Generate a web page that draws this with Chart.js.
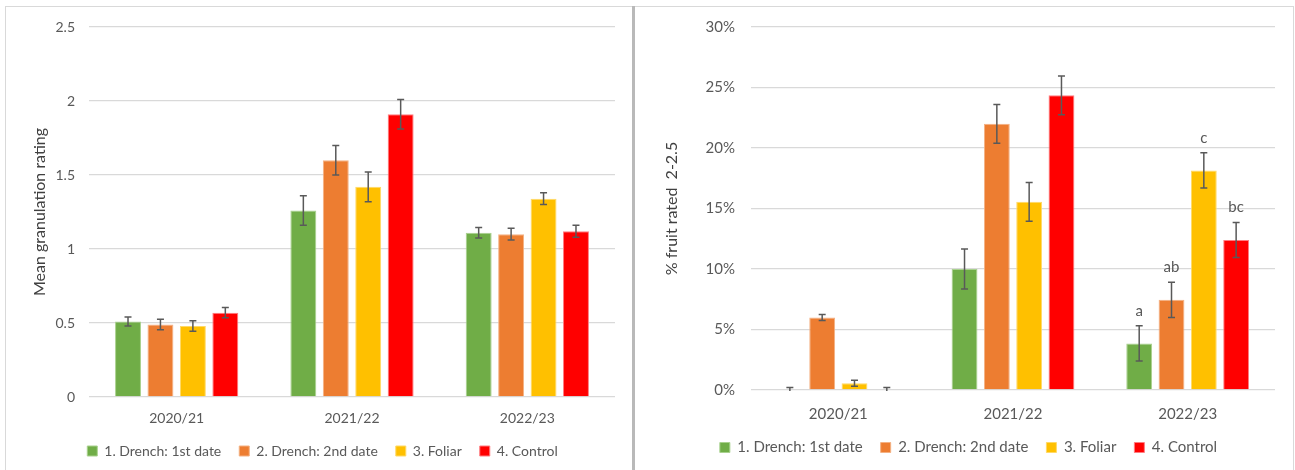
<!DOCTYPE html>
<html>
<head>
<meta charset="utf-8">
<script src="https://cdn.jsdelivr.net/npm/chart.js@4.4.1/dist/chart.umd.min.js"></script>
<style>
  body { margin: 0; background: #fff; width: 1295px; height: 470px; overflow: hidden; position: relative; }
  .panel { position: absolute; top: 6px; height: 470px; box-sizing: border-box; border-top: 1px solid #d9d9d9; }
  #leftPanel { left: 5px; width: 628px; border-left: 1px solid #d9d9d9; }
  #rightPanel { left: 635px; width: 659px; border-right: 1px solid #d9d9d9; }
  #divider { position: absolute; left: 632px; top: 6px; width: 3px; height: 464px; background: #b9b9b9; }
  canvas { position: absolute; top: 0; left: 0; }
</style>
</head>
<body>
<div class="panel" id="leftPanel"><canvas id="ratingChart" width="627" height="463"></canvas></div>
<div id="divider"></div>
<div class="panel" id="rightPanel"><canvas id="pctChart" width="658" height="463"></canvas></div>
<script>
const seasons = ['2020/21', '2021/22', '2022/23'];
const treatments = ['1. Drench: 1st date', '2. Drench: 2nd date', '3. Foliar', '4. Control'];
const colors = ['#70AD47', '#ED7D31', '#FFC000', '#FF0000'];
const edgeColors = ['#A9D18E', '#F4B183', '#FFD966', '#FF7C80'];

// mean granulation rating per treatment, with standard errors
const ratingDrench1 = [0.51, 1.26, 1.11];
const ratingDrench2 = [0.49, 1.60, 1.10];
const ratingFoliar = [0.48, 1.42, 1.34];
const ratingControl = [0.57, 1.91, 1.12];
const ratingErrDrench1 = [0.03, 0.10, 0.035];
const ratingErrDrench2 = [0.035, 0.10, 0.04];
const ratingErrFoliar = [0.035, 0.10, 0.04];
const ratingErrControl = [0.035, 0.10, 0.04];
const ratingTicks = [0, 0.5, 1, 1.5, 2, 2.5];

// % fruit rated 2-2.5 per treatment, with standard errors
const pctDrench1 = [0, 10.0, 3.85];
const pctDrench2 = [6.0, 22.0, 7.45];
const pctFoliar = [0.55, 15.55, 18.15];
const pctControl = [0, 24.35, 12.4];
const pctErrDrench1 = [0.2, 1.65, 1.45];
const pctErrDrench2 = [0.25, 1.6, 1.45];
const pctErrFoliar = [0.25, 1.6, 1.45];
const pctErrControl = [0.2, 1.6, 1.45];
const pctTicks = [0, 5, 10, 15, 20, 25, 30];

// significance letters for the 2022/23 season
const letters2223 = ['a', 'ab', 'c', 'bc'];

const FONT = 'Lato, "Open Sans", sans-serif';
const TICK_GREY = '#595959';

const errorBars = {
  id: 'errorBars',
  afterDatasetsDraw(chart) {
    const ctx = chart.ctx;
    const yScale = chart.scales.y;
    const area = chart.chartArea;
    ctx.save();
    ctx.beginPath();
    ctx.rect(area.left, area.top, area.right - area.left, area.bottom - area.top + 1);
    ctx.clip();
    ctx.strokeStyle = '#595959';
    ctx.lineWidth = 1.5;
    chart.data.datasets.forEach((ds, i) => {
      const meta = chart.getDatasetMeta(i);
      meta.data.forEach((bar, j) => {
        const v = ds.data[j], e = ds.errors[j];
        const top = yScale.getPixelForValue(v + e);
        const bot = yScale.getPixelForValue(v - e);
        ctx.beginPath();
        ctx.moveTo(bar.x, top); ctx.lineTo(bar.x, bot);
        ctx.moveTo(bar.x - 3.5, top); ctx.lineTo(bar.x + 3.5, top);
        ctx.moveTo(bar.x - 3.5, bot); ctx.lineTo(bar.x + 3.5, bot);
        ctx.stroke();
      });
    });
    ctx.restore();

    const letters = chart.options.plugins.sigLetters;
    if (!letters) return;
    ctx.save();
    ctx.fillStyle = TICK_GREY;
    ctx.font = '15px ' + FONT;
    ctx.textAlign = 'center';
    ctx.textBaseline = 'middle';
    chart.data.datasets.forEach((ds, i) => {
      const bar = chart.getDatasetMeta(i).data[letters.index];
      const top = yScale.getPixelForValue(ds.data[letters.index] + ds.errors[letters.index]);
      ctx.fillText(letters.labels[i], bar.x, top - 15);
    });
    ctx.restore();
  }
};

function makeDatasets(values, errs) {
  return treatments.map((name, i) => ({
    label: name,
    data: values[i],
    errors: errs[i],
    backgroundColor: colors[i],
    borderColor: edgeColors[i],
    borderWidth: 1,
    categoryPercentage: 0.74,
    barPercentage: 0.8
  }));
}

function makeChart(id, values, errs, opts) {
  const tickFont = { family: FONT, size: opts.fontSize };
  return new Chart(document.getElementById(id), {
    type: 'bar',
    data: { labels: seasons, datasets: makeDatasets(values, errs) },
    options: {
      responsive: false,
      animation: false,
      layout: { padding: { top: opts.padTop, right: opts.padRight, bottom: opts.padBottom, left: opts.padLeft } },
      scales: {
        x: {
          grid: { display: false },
          border: { display: false },
          ticks: { color: TICK_GREY, font: tickFont, padding: opts.xPad },
          afterFit: s => { s.height = opts.xHeight; }
        },
        y: {
          min: opts.ticks[0],
          max: opts.ticks[opts.ticks.length - 1],
          afterBuildTicks: s => { s.ticks = opts.ticks.map(v => ({ value: v })); },
          grid: { color: '#d9d9d9', lineWidth: 1.3, drawTicks: false },
          border: { display: false },
          ticks: { color: TICK_GREY, font: tickFont, padding: opts.yPad, callback: opts.fmt },
          title: { display: true, text: opts.title, color: '#404040', font: { family: FONT, size: 16 }, padding: 0 },
          // plot top is set by layout padding alone, not by the tick label padding
          afterFit: s => { s.width = opts.yWidth; s.paddingTop = 0; s.paddingBottom = 0; }
        }
      },
      plugins: {
        legend: {
          position: 'bottom',
          labels: { color: TICK_GREY, font: tickFont, boxWidth: 10, boxHeight: 10, padding: 18 }
        },
        tooltip: { enabled: false },
        sigLetters: opts.letters
      }
    },
    plugins: [errorBars]
  });
}

makeChart('ratingChart',
  [ratingDrench1, ratingDrench2, ratingFoliar, ratingControl],
  [ratingErrDrench1, ratingErrDrench2, ratingErrFoliar, ratingErrControl],
  { ticks: ratingTicks, title: 'Mean granulation rating', fmt: v => v, fontSize: 14,
    yWidth: 59, yPad: 14, xPad: 5, xHeight: 29, padTop: 20, padRight: 18, padBottom: 2, padLeft: 24,
    letters: null });

makeChart('pctChart',
  [pctDrench1, pctDrench2, pctFoliar, pctControl],
  [pctErrDrench1, pctErrDrench2, pctErrFoliar, pctErrControl],
  { ticks: pctTicks, title: '% fruit rated  2-2.5', fmt: v => v + '%', fontSize: 15,
    yWidth: 89, yPad: 16, xPad: 7, xHeight: 32, padTop: 20, padRight: 18, padBottom: 5, padLeft: 27,
    letters: { index: 2, labels: letters2223 } });
</script>
</body>
</html>
